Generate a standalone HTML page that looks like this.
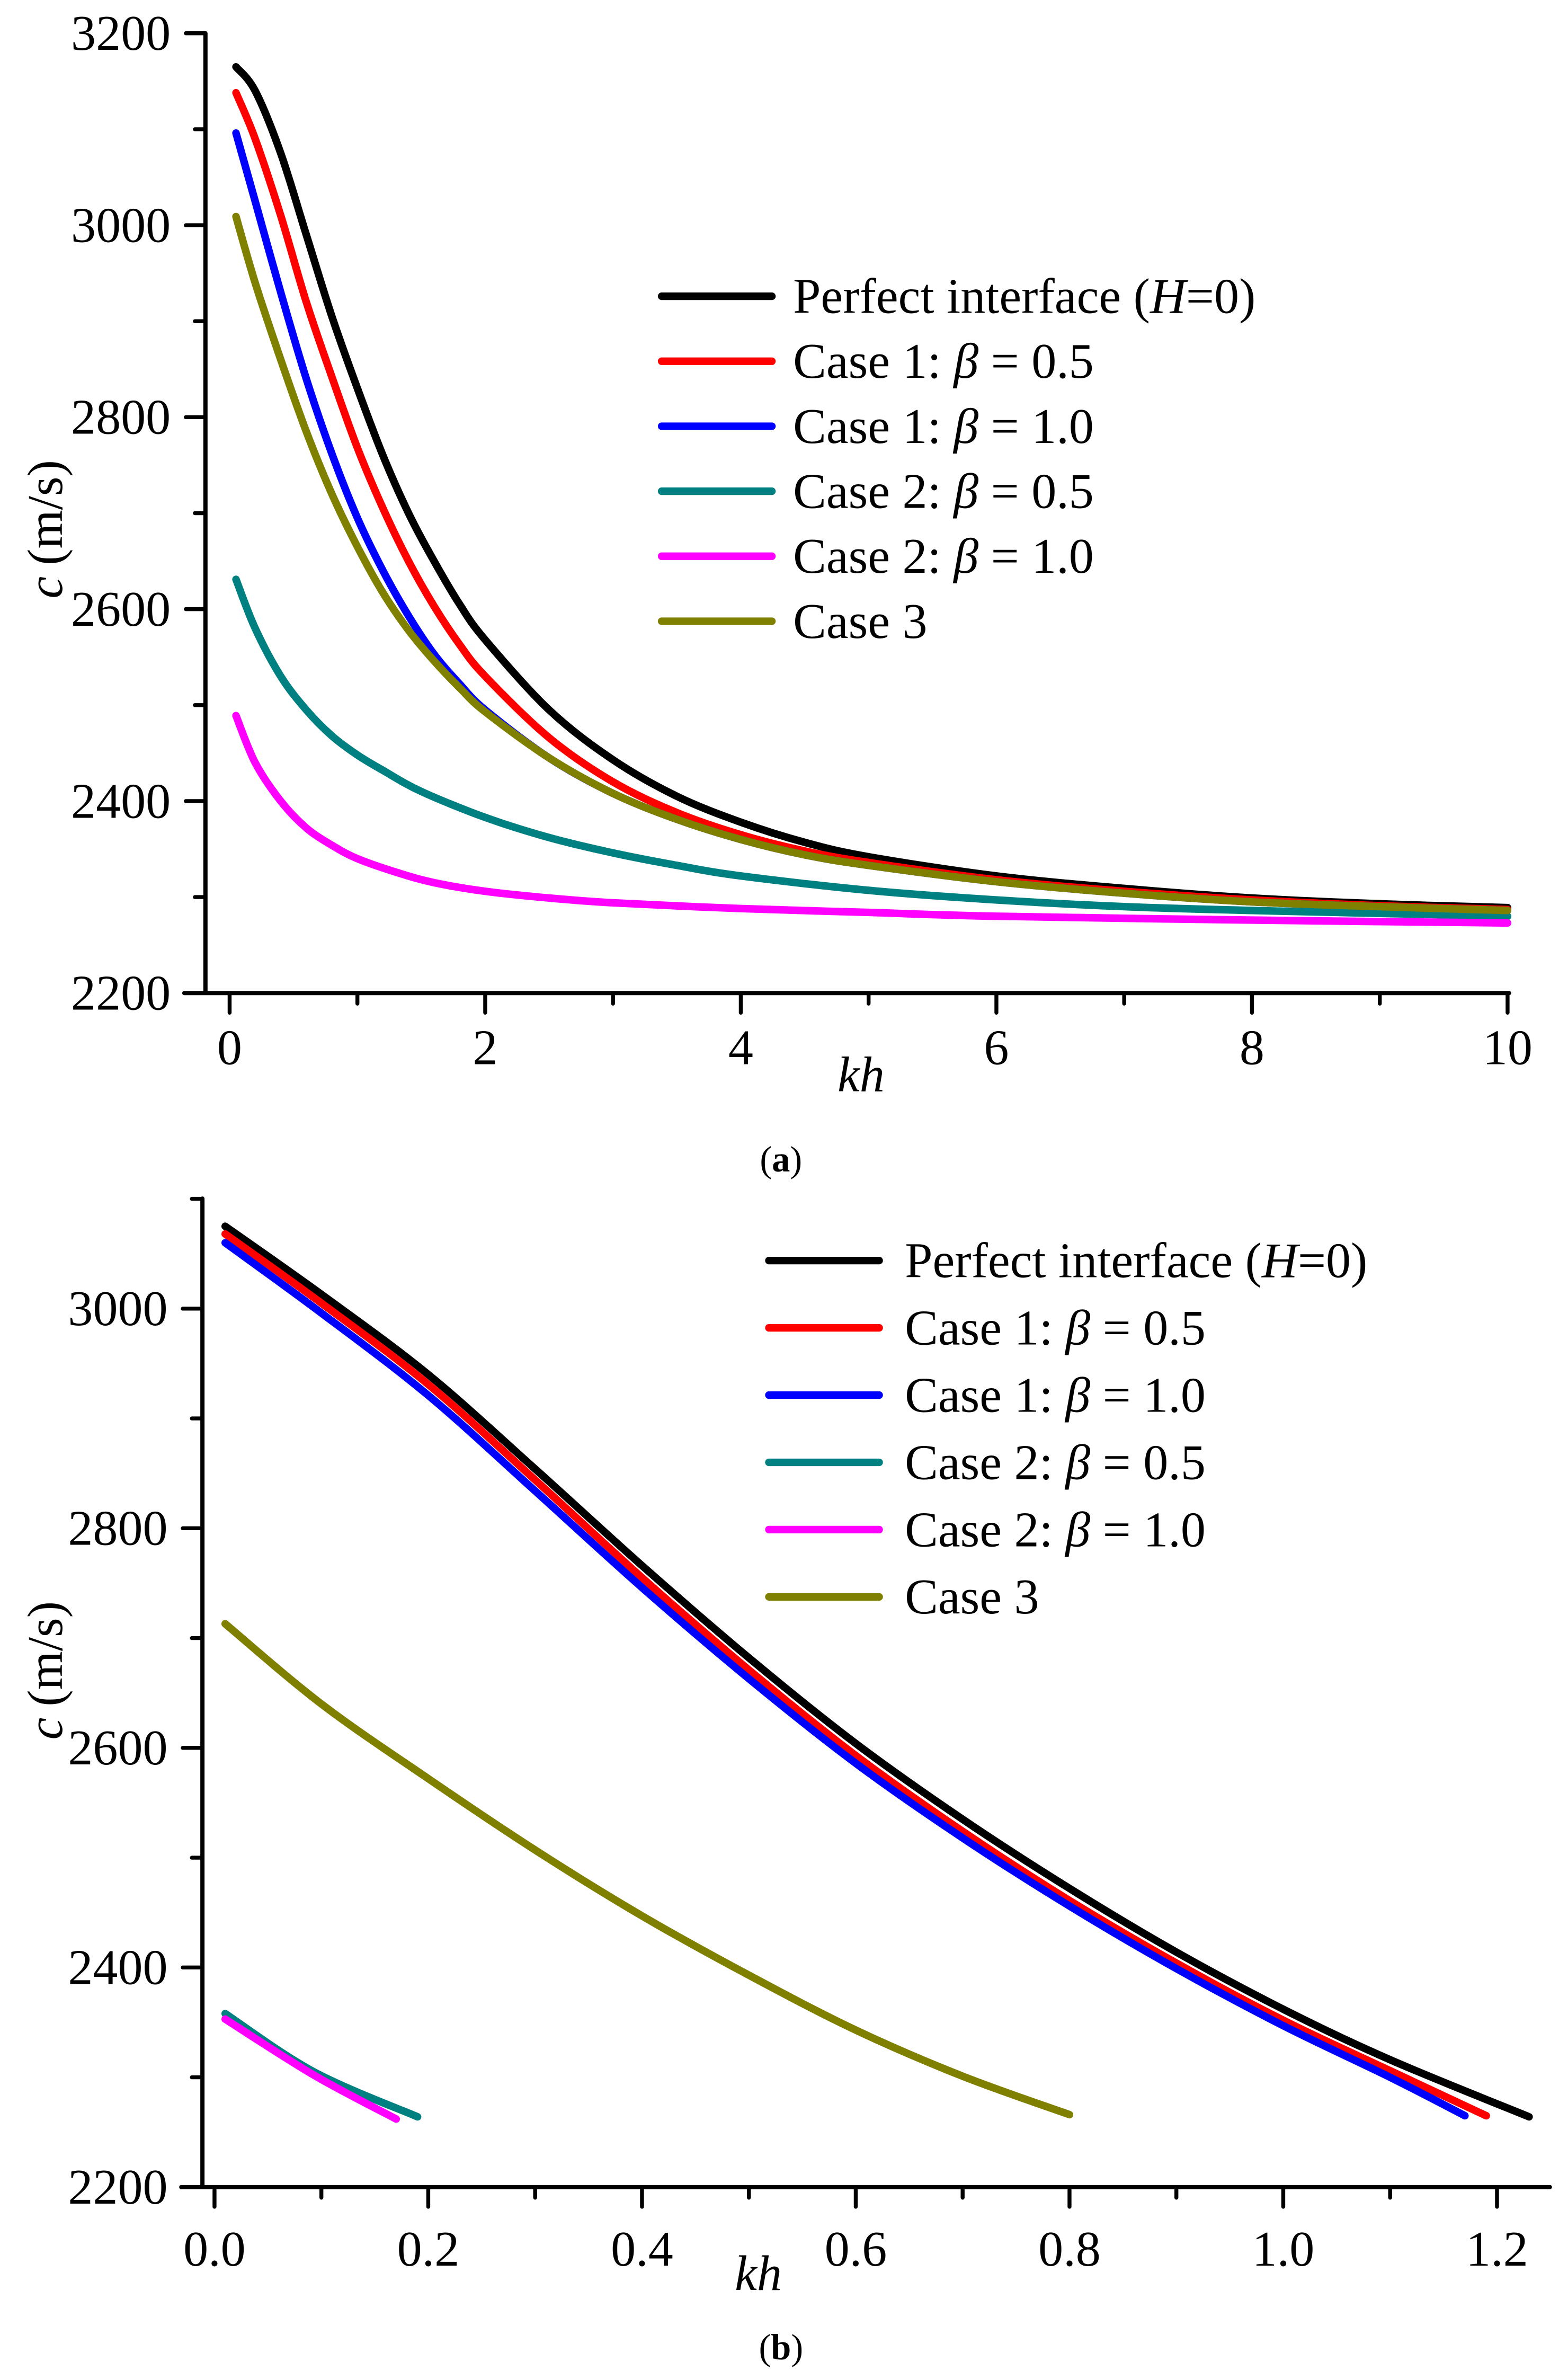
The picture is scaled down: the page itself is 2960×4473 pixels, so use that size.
<!DOCTYPE html>
<html><head><meta charset="utf-8"><style>
html,body{margin:0;padding:0;background:#fff;}
svg{display:block;}
text{font-family:"Liberation Serif","Times New Roman",serif;fill:#000;}
</style></head><body>
<svg id="fig" width="2960" height="4473" viewBox="0 0 1038 1568" preserveAspectRatio="none" xmlns="http://www.w3.org/2000/svg">
<rect x="0" y="0" width="1038" height="1568" fill="#fff"/>
<g id="pa"></g>
<g id="pb"></g>
</svg>
<script>
// ---------- Chart (a) data ----------
const aSeriesNames = ["Perfect interface (H=0)","Case 1: β = 0.5","Case 1: β = 1.0","Case 2: β = 0.5","Case 2: β = 1.0","Case 3"];
const aColors = ["#000000","#ff0000","#0000ff","#008080","#ff00ff","#808000"];
const aBlackX = [0.05,0.2,0.4,0.6,0.8,1.0,1.2,1.4,1.6,1.8,2.0,2.5,3,3.5,4,4.5,5,6,7,8,9,10];
const aBlackY = [3165,3140,3075,2990,2905,2830,2760,2700,2650,2605,2568,2495,2443,2405,2378,2357,2342,2322,2309,2299,2293,2289];
const aRedX = [0.05,0.2,0.4,0.6,0.8,1.0,1.2,1.4,1.6,1.8,2.0,2.5,3,3.5,4,4.5,5,6,7,8,9,10];
const aRedY = [3138,3090,3010,2920,2842,2768,2705,2650,2603,2563,2530,2466,2420,2388,2365,2348,2336,2318,2306,2297,2291,2287];
const aBlueX = [0.05,0.2,0.4,0.6,0.8,1.0,1.2,1.4,1.6,1.8,2.0,2.5,3,3.5,4,4.5,5,6,7,8,9,10];
const aBlueY = [3096,3025,2930,2840,2762,2695,2640,2593,2553,2522,2495,2445,2408,2381,2360,2344,2333,2316,2304,2295,2290,2286];
const aTealX = [0.05,0.2,0.4,0.6,0.8,1.0,1.2,1.5,2,2.5,3,3.5,4,5,6,7,8,9,10];
const aTealY = [2631,2580,2530,2495,2468,2448,2432,2410,2383,2362,2346,2333,2322,2307,2297,2290,2286,2283,2280];
const aMagX = [0.05,0.2,0.4,0.6,0.8,1.0,1.3,1.6,2,2.5,3,4,5,6,8,10];
const aMagY = [2489,2440,2400,2372,2354,2340,2326,2315,2306,2299,2294,2288,2284,2280,2276,2273];
const aOliveX = [0.05,0.2,0.4,0.6,0.8,1.0,1.2,1.4,1.6,1.8,2.0,2.5,3,3.5,4,4.5,5,6,7,8,9,10];
const aOliveY = [3009,2940,2860,2785,2720,2665,2617,2578,2546,2518,2493,2445,2408,2381,2360,2344,2333,2316,2304,2295,2290,2286];
const aXTicks = [0,2,4,6,8,10];
const aYTicks = [2200,2400,2600,2800,3000,3200];

// ---------- Chart (b) data ----------
const bBlackX = [0.01,0.1,0.2,0.3,0.4,0.5,0.6,0.7,0.8,0.9,1.0,1.1,1.23];
const bBlackY = [3075,3013,2940,2854,2766,2682,2604,2535,2472,2414,2362,2316,2264];
const bRedX = [0.01,0.1,0.2,0.3,0.4,0.5,0.6,0.7,0.8,0.9,1.0,1.1,1.19];
const bRedY = [3068,3005,2931,2844,2755,2671,2593,2524,2461,2404,2352,2306,2265];
const bBlueX = [0.01,0.1,0.2,0.3,0.4,0.5,0.6,0.7,0.8,0.9,1.0,1.1,1.17];
const bBlueY = [3060,2996,2921,2834,2746,2663,2586,2518,2456,2399,2347,2300,2265];
const bTealX = [0.01,0.093,0.19];
const bTealY = [2358,2305,2264];
const bMagX = [0.01,0.093,0.17];
const bMagY = [2353,2302,2262];
const bOliveX = [0.01,0.1,0.2,0.3,0.4,0.5,0.6,0.7,0.8];
const bOliveY = [2713,2640,2572,2507,2447,2393,2343,2301,2266];
const bXTicks = [0,0.2,0.4,0.6,0.8,1.0,1.2];
const bXTickLabels = ["0.0","0.2","0.4","0.6","0.8","1.0","1.2"];
const bYTicks = [2200,2400,2600,2800,3000];

const NS = "http://www.w3.org/2000/svg";
function mk(parent, tag, attrs, txt){
  const e = document.createElementNS(NS, tag);
  for (const k in attrs) e.setAttribute(k, attrs[k]);
  if (txt !== undefined) e.textContent = txt;
  parent.appendChild(e);
  return e;
}
function smoothPath(pts){
  let d = "M" + pts[0][0].toFixed(2) + "," + pts[0][1].toFixed(2);
  for (let i = 0; i < pts.length - 1; i++){
    const p0 = pts[i-1] || pts[i], p1 = pts[i], p2 = pts[i+1], p3 = pts[i+2] || p2;
    const c1x = p1[0] + (p2[0]-p0[0])/6, c1y = p1[1] + (p2[1]-p0[1])/6;
    const c2x = p2[0] - (p3[0]-p1[0])/6, c2y = p2[1] - (p3[1]-p1[1])/6;
    d += " C" + c1x.toFixed(2) + "," + c1y.toFixed(2) + " " + c2x.toFixed(2) + "," + c2y.toFixed(2) + " " + p2[0].toFixed(2) + "," + p2[1].toFixed(2);
  }
  return d;
}

function drawChart(g, cfg){
  const sx = v => cfg.x0 + (v - cfg.xmin) * cfg.xs;
  const sy = v => cfg.yBase - (v - 2200) * cfg.ys;
  cfg.series.forEach((s, i) => {
    const pts = s.x.map((xv, j) => [sx(xv), sy(s.y[j])]);
    const p = mk(g, "path", {d: smoothPath(pts), fill: "none", stroke: cfg.colors[i], "stroke-width": 5, "stroke-linecap": "round", "stroke-linejoin": "round"});
    
    
  });
  const ax = mk(g, "path", {d: "M" + cfg.spineX + "," + cfg.top + " V" + cfg.yBase + " M" + (cfg.spineX - 14) + "," + cfg.yBase + " H" + cfg.right, stroke: "#000", "stroke-width": 2.8, fill: "none", "stroke-linecap": "round"});
  
  
  cfg.yTicks.forEach(v => {
    const y = sy(v);
    const t = mk(g, "line", {x1: cfg.spineX - 13, x2: cfg.spineX, y1: y, y2: y, stroke: "#000", "stroke-width": 2.6, "stroke-linecap": "round"});
    
    
    const l = mk(g, "text", {x: cfg.yLabX, y: y + 11, "text-anchor": "end", "font-size": 33}, String(v));
    
    
    if (v + 100 <= cfg.ymaxMinor){
      const m = mk(g, "line", {x1: cfg.spineX - 7, x2: cfg.spineX, y1: sy(v + 100), y2: sy(v + 100), stroke: "#000", "stroke-width": 2.6, "stroke-linecap": "round"});
      
      
    }
  });
  cfg.xTicks.forEach((v, i) => {
    const x = sx(v);
    const t = mk(g, "line", {x1: x, x2: x, y1: cfg.yBase, y2: cfg.yBase + 13, stroke: "#000", "stroke-width": 2.6, "stroke-linecap": "round"});
    
    
    const l = mk(g, "text", {x: x, y: cfg.xLabY, "text-anchor": "middle", "font-size": 33}, cfg.xTickLabels[i]);
    
    
    if (i < cfg.xTicks.length - 1){
      const mx = sx((v + cfg.xTicks[i+1]) / 2);
      const m = mk(g, "line", {x1: mx, x2: mx, y1: cfg.yBase, y2: cfg.yBase + 7, stroke: "#000", "stroke-width": 2.6, "stroke-linecap": "round"});
      
      
    }
  });
  const xt = mk(g, "text", {x: cfg.khX, y: cfg.khY, "font-size": 33, "font-style": "italic", "text-anchor": "middle"}, "kh");
  
  
  const yg = mk(g, "g", {transform: "translate(" + cfg.cX + "," + cfg.cY + ") rotate(-90)"});
  
  
  mk(yg, "text", {x: -56, y: 0, "font-size": 33, "font-style": "italic", "text-anchor": "start"}, "c");
  mk(yg, "text", {x: -34, y: 0, "font-size": 33, "text-anchor": "start"}, "(m/s)");
  const lg = mk(g, "g", {});
  
  
  cfg.names.forEach((n, i) => {
    const y = cfg.legY + i * cfg.legDy;
    const e = mk(lg, "g", {});
    
    
    mk(e, "line", {x1: cfg.legX1, x2: cfg.legX2, y1: y, y2: y, stroke: cfg.colors[i], "stroke-width": 5, "stroke-linecap": "round"});
    const t = mk(e, "text", {x: cfg.legTX, y: y + 11, "font-size": 33});
    if (i === 0){
      mk(t, "tspan", {}, "Perfect interface (");
      mk(t, "tspan", {"font-style": "italic"}, "H");
      mk(t, "tspan", {}, "=0)");
    } else if (i === 5){
      t.textContent = "Case 3";
    } else {
      const parts = n.split("β");
      mk(t, "tspan", {}, parts[0]);
      mk(t, "tspan", {"font-style": "italic"}, "β");
      mk(t, "tspan", {}, parts[1]);
    }
  });
  const cap = mk(g, "text", {x: cfg.capX, y: cfg.capY, "font-size": 24, "text-anchor": "middle"});
  
  
  mk(cap, "tspan", {}, "(");
  mk(cap, "tspan", {"font-weight": "bold"}, cfg.capLetter);
  mk(cap, "tspan", {}, ")");
}

drawChart(document.getElementById("pa"), {
  x0: 152, xmin: 0, xs: 84.6, yBase: 657, ys: 0.635, top: 22, spineX: 136, right: 999,
  yTicks: aYTicks, ymaxMinor: 3200, xTicks: aXTicks, xTickLabels: aXTicks.map(String),
  yLabX: 113, xLabY: 704, khX: 570, khY: 722, cX: 41, cY: 340,
  names: aSeriesNames, colors: aColors,
  series: [
    {key:"perfect-interface", x:aBlackX, y:aBlackY},
    {key:"case1-beta0.5", x:aRedX, y:aRedY},
    {key:"case1-beta1.0", x:aBlueX, y:aBlueY},
    {key:"case2-beta0.5", x:aTealX, y:aTealY},
    {key:"case2-beta1.0", x:aMagX, y:aMagY},
    {key:"case3", x:aOliveX, y:aOliveY}
  ],
  legX1: 438, legX2: 511, legTX: 525, legY: 196, legDy: 43,
  capX: 517, capY: 775, capLetter: "a"
});

drawChart(document.getElementById("pb"), {
  x0: 142, xmin: 0, xs: 707.5, yBase: 1447, ys: 0.7265, top: 793, spineX: 134, right: 1026,
  yTicks: bYTicks, ymaxMinor: 3100, xTicks: bXTicks, xTickLabels: bXTickLabels,
  yLabX: 111, xLabY: 1499, khX: 502, khY: 1515, cX: 41, cY: 1095,
  names: aSeriesNames, colors: aColors,
  series: [
    {key:"perfect-interface", x:bBlackX, y:bBlackY},
    {key:"case1-beta0.5", x:bRedX, y:bRedY},
    {key:"case1-beta1.0", x:bBlueX, y:bBlueY},
    {key:"case2-beta0.5", x:bTealX, y:bTealY},
    {key:"case2-beta1.0", x:bMagX, y:bMagY},
    {key:"case3", x:bOliveX, y:bOliveY}
  ],
  legX1: 509, legX2: 582, legTX: 599, legY: 834, legDy: 44.5,
  capX: 517, capY: 1561, capLetter: "b"
});
</script>
</body></html>
